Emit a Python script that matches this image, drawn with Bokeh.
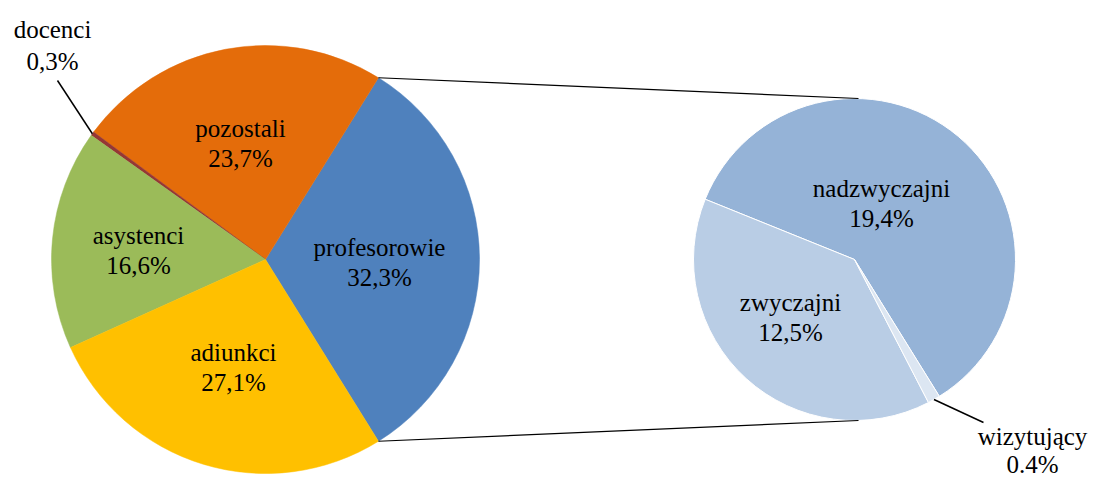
import numpy as np
from bokeh.plotting import figure
from bokeh.models import ColumnDataSource, Range1d, Label
from bokeh.embed import file_html
from bokeh.resources import INLINE

# ---- data ----
main_cats = ["profesorowie", "pozostali", "docenci", "asystenci", "adiunkci"]
main_vals = [32.3, 23.7, 0.3, 16.6, 27.1]
main_pct = ["32,3%", "23,7%", "0,3%", "16,6%", "27,1%"]

sub_cats = ["nadzwyczajni", "zwyczajni", "wizytujący"]
sub_vals = [19.4, 12.5, 0.4]
sub_pct = ["19,4%", "12,5%", "0.4%"]

# ---- styles / layout ----
main_colors = ["#4F81BD", "#E46C0A", "#953735", "#9BBB59", "#FFC000"]
sub_colors = ["#95B3D7", "#B9CDE5", "#DCE6F2"]
FONT = "Liberation Serif"
FS = "25px"
LINE_GAP = 15

W, H = 1095, 478
def X(sx):  # screen x -> data x
    return sx
def Y(sy):  # screen y -> data y
    return H - sy

C1 = (265, 259); R1 = 214
C2 = (854, 259); R2 = 161

p = figure(width=W, height=H, x_range=Range1d(0, W), y_range=Range1d(0, H),
           output_backend="svg", toolbar_location=None, min_border=0)
p.axis.visible = False
p.grid.visible = False
p.outline_line_color = None
p.background_fill_color = "white"
p.border_fill_color = "white"

# main pie
mv = np.array(main_vals, dtype=float)
fr = mv / mv.sum()
start0 = -fr[0] * np.pi
ends = start0 + 2 * np.pi * np.cumsum(fr)
starts = np.concatenate([[start0], ends[:-1]])
src1 = ColumnDataSource(dict(cat=main_cats, start=starts, end=ends, color=main_colors,
                             x=[X(C1[0])] * len(mv), y=[Y(C1[1])] * len(mv)))
p.wedge(x="x", y="y", radius=R1, start_angle="start", end_angle="end",
        fill_color="color", line_color="color", line_width=0.5, source=src1)

# secondary pie (breakdown of profesorowie)
sv = np.array(sub_vals, dtype=float)
sfr = sv / sv.sum()
s_start0 = np.deg2rad(-58.2)
s_ends = s_start0 + 2 * np.pi * np.cumsum(sfr)
s_starts = np.concatenate([[s_start0], s_ends[:-1]])
src2 = ColumnDataSource(dict(cat=sub_cats, start=s_starts, end=s_ends, color=sub_colors,
                             x=[X(C2[0])] * len(sv), y=[Y(C2[1])] * len(sv)))
p.wedge(x="x", y="y", radius=R2, start_angle="start", end_angle="end",
        fill_color="color", line_color="white", line_width=1, source=src2)

# connector lines
a_top, a_bot = ends[0], starts[0]
p.line([X(C1[0]) + R1 * np.cos(a_top), X(C2[0]) + 4],
       [Y(C1[1]) + R1 * np.sin(a_top), Y(C2[1]) + R2], line_color="black", line_width=1.2)
p.line([X(C1[0]) + R1 * np.cos(a_bot), X(C2[0]) + 4],
       [Y(C1[1]) + R1 * np.sin(a_bot), Y(C2[1]) - R2], line_color="black", line_width=1.2)

def label(cx, cy, name, pct, gap=LINE_GAP):
    for t, yy in ((name, Y(cy) + gap), (pct, Y(cy) - gap)):
        p.add_layout(Label(x=X(cx), y=yy, text=t, text_font=FONT, text_font_size=FS,
                           text_color="black", text_align="center", text_baseline="middle"))

# inside labels: offsets from pie centre (screen px)
main_off = {"profesorowie": (114, 3), "pozostali": (-25, -116),
            "asystenci": (-127, -9), "adiunkci": (-32, 108)}
for c, pc in zip(main_cats, main_pct):
    if c in main_off:
        dx, dy = main_off[c]
        label(C1[0] + dx, C1[1] + dy, c, pc)

sub_off = {"nadzwyczajni": (27, -56), "zwyczajni": (-64, 58)}
for c, pc in zip(sub_cats, sub_pct):
    if c in sub_off:
        dx, dy = sub_off[c]
        label(C2[0] + dx, C2[1] + dy, c, pc)

# outside labels with leader lines
i_doc = main_cats.index("docenci")
mid_doc = (starts[i_doc] + ends[i_doc]) / 2
label(52, 45, main_cats[i_doc], main_pct[i_doc], gap=16)
p.line([X(57), X(C1[0]) + R1 * np.cos(mid_doc)], [Y(80), Y(C1[1]) + R1 * np.sin(mid_doc)],
       line_color="black", line_width=1.5)

i_wiz = sub_cats.index("wizytujący")
mid_wiz = (s_starts[i_wiz] + s_ends[i_wiz]) / 2
label(1032, 450, sub_cats[i_wiz], sub_pct[i_wiz], gap=14)
p.line([X(C2[0]) + R2 * np.cos(mid_wiz), X(983)], [Y(C2[1]) + R2 * np.sin(mid_wiz), Y(422)],
       line_color="black", line_width=1.5)

open("out.html", "w").write(file_html(p, INLINE))
